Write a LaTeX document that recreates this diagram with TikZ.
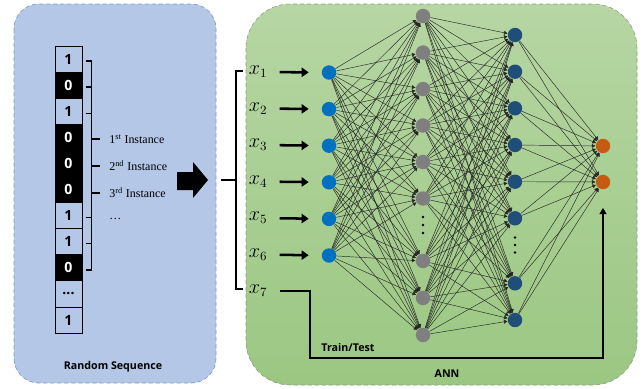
\documentclass[tikz,border=0pt]{standalone}
\usepackage{amsmath}
\usepackage{fontspec}
\setmainfont{Liberation Serif}
\setsansfont{Open Sans}
\usetikzlibrary{arrows.meta}

\definecolor{seqblue}{HTML}{B4C7E7}
\definecolor{seqline}{HTML}{7F9CC8}
\definecolor{anntop}{HTML}{B6D6A3}
\definecolor{annbot}{HTML}{9BC782}
\definecolor{annline}{HTML}{8C9A84}
\definecolor{inblue}{HTML}{0070C0}
\definecolor{hidgray}{HTML}{7F7F7F}
\definecolor{hidnavy}{HTML}{1F4E79}
\definecolor{outorange}{HTML}{C55A11}

\begin{document}
\begin{tikzpicture}[x=0.025cm, y=-0.025cm,
    cell_node/.style={draw, line width=0.6pt, minimum width=0.675cm, minimum height=0.6525cm, inner sep=0,
        font=\sffamily\bfseries\fontsize{10}{10}\selectfont},
    zero_node/.style={cell_node, fill=black, text=white},
    inst_node/.style={anchor=west, inner sep=0, font=\fontsize{8.5}{9}\selectfont},
    var_node/.style={inner sep=0, font=\fontsize{13.5}{14}\selectfont},
    unit_node/.style={circle, minimum size=0.36cm, inner sep=0},
    title_node/.style={font=\sffamily\bfseries\fontsize{7.6}{8}\selectfont},
    bracket/.style={line width=1.05pt},
    feed/.style={line width=1.8pt, -{Triangle[length=5pt,width=6.5pt]}},
    link/.style={line width=0.32pt, black!85, -{Latex[length=2.6pt,width=3pt]}}]

    \useasboundingbox (0,0) rectangle (644,388);

    % the two panels
    \draw[seqline, densely dashed, line width=0.5pt, fill=seqblue, rounded corners=0.62cm] (14,4) rectangle (216,383);
    \draw[annline, densely dashed, line width=0.4pt, top color=anntop, bottom color=annbot, rounded corners=1.1cm] (246,4) rectangle (637,385);

    % random bit sequence
    \node[cell_node] (c1) at (68.5,59.05) {1};
    \node[zero_node] (c2) at (68.5,85.15) {0};
    \node[cell_node] (c3) at (68.5,111.25) {1};
    \node[zero_node] (c4) at (68.5,137.35) {0};
    \node[zero_node] (c5) at (68.5,163.45) {0};
    \node[zero_node] (c6) at (68.5,189.55) {0};
    \node[cell_node] (c7) at (68.5,215.65) {1};
    \node[cell_node] (c8) at (68.5,241.75) {1};
    \node[zero_node] (c9) at (68.5,267.85) {0};
    \node[cell_node] (c10) at (68.5,293.95) {...};
    \node[cell_node] (c11) at (68.5,320.05) {1};

    \draw[bracket] ([shift={(4,2)}]c1.east) -| ([shift={(9,2)}]c9.east) -- ([shift={(4,2)}]c9.east);
    \foreach \c in {c2,c3,c7,c8}
        \draw[bracket] ([shift={(4,2)}]\c.east) -- ++(5,0);

    \node[inst_node] (i1) at (109,139) {1\textsuperscript{st} Instance};
    \node[inst_node] (i2) at (109,166) {2\textsuperscript{nd} Instance};
    \node[inst_node] (i3) at (109,193) {3\textsuperscript{rd} Instance};
    \node[inst_node] (i4) at (109,219) {\dots};
    \foreach \i in {i1,i2,i3}
        \draw[bracket] ([xshift=-0.45cm]\i.west) -- ([xshift=-0.22cm]\i.west);

    \node[title_node] (seq) at (113,367) {Random Sequence};

    % block arrow into the network
    \fill (177,172) -- (193,172) -- (193,162) -- (208,180) -- (193,198) -- (193,190) -- (177,190) -- cycle;

    % input variables
    \node[var_node] (x1) at (258,72) {$x_1$};
    \node[var_node] (x2) at (258,108.5) {$x_2$};
    \node[var_node] (x3) at (258,145) {$x_3$};
    \node[var_node] (x4) at (258,181.5) {$x_4$};
    \node[var_node] (x5) at (258,218) {$x_5$};
    \node[var_node] (x6) at (258,254.5) {$x_6$};
    \node[var_node] (x7) at (258,291) {$x_7$};

    \draw[bracket] (243,71) -| (236,289) -- (243,289);
    \draw[bracket] (221,180) -- (236,180);

    % input layer
    \node[unit_node, fill=inblue] (in1) at (329,72.5) {};
    \node[unit_node, fill=inblue] (in2) at (329,109.1) {};
    \node[unit_node, fill=inblue] (in3) at (329,145.7) {};
    \node[unit_node, fill=inblue] (in4) at (329,182.3) {};
    \node[unit_node, fill=inblue] (in5) at (329,218.9) {};
    \node[unit_node, fill=inblue] (in6) at (329,255.5) {};

    % first hidden layer
    \node[unit_node, fill=hidgray] (a1) at (423,16) {};
    \node[unit_node, fill=hidgray] (a2) at (423,52.5) {};
    \node[unit_node, fill=hidgray] (a3) at (423,89) {};
    \node[unit_node, fill=hidgray] (a4) at (423,125.5) {};
    \node[unit_node, fill=hidgray] (a5) at (423,162) {};
    \node[unit_node, fill=hidgray] (a6) at (423,198.5) {};
    \node[unit_node, fill=hidgray] (a7) at (423,261) {};
    \node[unit_node, fill=hidgray] (a8) at (423,298) {};
    \node[unit_node, fill=hidgray] (a9) at (423,335) {};

    % second hidden layer
    \node[unit_node, fill=hidnavy] (b1) at (515,35) {};
    \node[unit_node, fill=hidnavy] (b2) at (515,71.7) {};
    \node[unit_node, fill=hidnavy] (b3) at (515,108.3) {};
    \node[unit_node, fill=hidnavy] (b4) at (515,145) {};
    \node[unit_node, fill=hidnavy] (b5) at (515,181.7) {};
    \node[unit_node, fill=hidnavy] (b6) at (515,218.3) {};
    \node[unit_node, fill=hidnavy] (b7) at (515,283.3) {};
    \node[unit_node, fill=hidnavy] (b8) at (515,320) {};

    % output layer
    \node[unit_node, fill=outorange] (o1) at (603,146) {};
    \node[unit_node, fill=outorange] (o2) at (603,182) {};

    \foreach \y in {217,225,233}
        \fill (423,\y) circle (1.4);
    \foreach \y in {237.5,245,252.5}
        \fill (515,\y) circle (1.4);

    % fully connected weights
    \foreach \i in {1,...,6}
        \foreach \j in {1,...,9}
            \draw[link] (in\i) -- (a\j);
    \foreach \i in {1,...,9}
        \foreach \j in {1,...,8}
            \draw[link] (a\i) -- (b\j);
    \foreach \i in {1,...,8}
        \foreach \j in {1,2}
            \draw[link] (b\i) -- (o\j);

    % inputs feeding the network
    \foreach \k in {1,...,6}
        \draw[feed, shorten <=0.3cm, shorten >=0.32cm] (x\k) -- (in\k);

    % label routed to the output for training and testing
    \coordinate (bend) at (310,358);
    \draw[line width=1.4pt, -{Triangle[length=4.5pt,width=5pt]}]
        ([xshift=0.3cm]x7.east) -| (bend) -| ([yshift=-0.46cm]o2.south);
    \node[title_node] (tt) at (348,347) {Train/Test};

    \node[title_node] (ann) at (447,374) {ANN};
\end{tikzpicture}
\end{document}
